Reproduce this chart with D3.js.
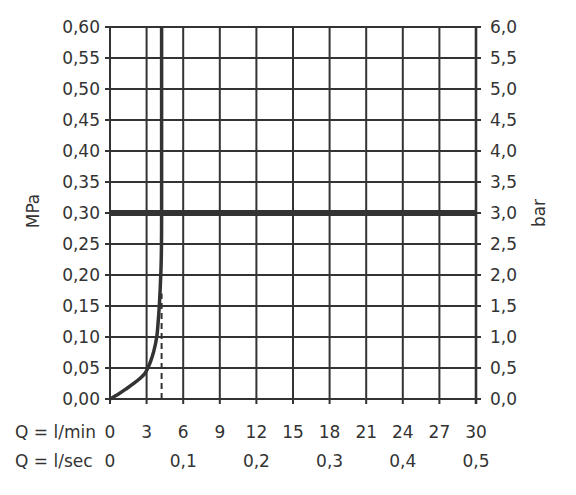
<!DOCTYPE html>
<html><head><meta charset="utf-8">
<script src="https://cdn.jsdelivr.net/npm/d3@7"></script>
<style>body{margin:0;background:#fff}svg{display:block}text{font-family:"DejaVu Sans",sans-serif;fill:#333}</style>
</head><body>
<svg id="c" width="576" height="495"></svg>
<script>
const qTicks = [0,3,6,9,12,15,18,21,24,27,30];
const secTicks = [0,6,12,18,24,30];
const secLabels = ["0","0,1","0,2","0,3","0,4","0,5"];
const mpaTicks = [0,0.05,0.10,0.15,0.20,0.25,0.30,0.35,0.40,0.45,0.50,0.55,0.60];
const barLabels = ["0,0","0,5","1,0","1,5","2,0","2,5","3,0","3,5","4,0","4,5","5,0","5,5","6,0"];
const curveQ = [0,0.7,1.37,2.0,2.5,2.85,3.1,3.35,3.6,3.83,3.95,4.04,4.12,4.18,4.22,4.23,4.23];
const curveP = [0,0.008,0.017,0.026,0.034,0.041,0.05,0.062,0.078,0.10,0.125,0.15,0.18,0.21,0.25,0.30,0.60];
const dashQ = [4.23,4.23];
const dashP = [0,0.17];
const refP = 0.30;

const svg = d3.select("#c");
const L=110,R=476,T=27,B=399;
const x = d3.scaleLinear().domain([0,30]).range([L,R]);
const y = d3.scaleLinear().domain([0,0.6]).range([B,T]);
const col="#333";
const g = svg.append("g");

g.selectAll(".vg").data(qTicks).join("line")
 .attr("x1",d=>x(d)).attr("x2",d=>x(d)).attr("y1",T).attr("y2",B+5)
 .attr("stroke",col).attr("stroke-width",d=>d===30?2.6:2);
g.selectAll(".hg").data(mpaTicks).join("line")
 .attr("x1",L-5).attr("x2",R+5).attr("y1",d=>y(d)).attr("y2",d=>y(d))
 .attr("stroke",col).attr("stroke-width",2);

g.append("line").attr("x1",L).attr("x2",R).attr("y1",y(refP)).attr("y2",y(refP))
 .attr("stroke",col).attr("stroke-width",6);

g.append("line").attr("x1",x(dashQ[0])).attr("x2",x(dashQ[1])).attr("y1",y(dashP[0])).attr("y2",y(dashP[1]))
 .attr("stroke",col).attr("stroke-width",2).attr("stroke-dasharray","6,4");

const pts = curveQ.map((q,i)=>[q,curveP[i]]);
g.append("path").attr("d",d3.line().x(d=>x(d[0])).y(d=>y(d[1])).curve(d3.curveMonotoneY)(pts))
 .attr("fill","none").attr("stroke",col).attr("stroke-width",3.5).attr("stroke-linejoin","round");

g.selectAll(".ll").data(mpaTicks).join("text")
 .attr("x",100).attr("y",d=>y(d)+6).attr("text-anchor","end").attr("font-size",17)
 .text(d=>d3.format(".2f")(d).replace(".",","));
g.selectAll(".rl").data(mpaTicks).join("text")
 .attr("x",490).attr("y",d=>y(d)+6).attr("text-anchor","start").attr("font-size",17)
 .text((d,i)=>barLabels[i]);
g.selectAll(".bl").data(qTicks).join("text")
 .attr("x",d=>x(d)).attr("y",438).attr("text-anchor","middle").attr("font-size",17)
 .text(d=>d);
g.selectAll(".sl").data(secTicks).join("text")
 .attr("x",d=>x(d)).attr("y",467).attr("text-anchor","middle").attr("font-size",17)
 .text((d,i)=>secLabels[i]);
g.append("text").attr("x",15).attr("y",438).attr("font-size",17).text("Q = l/min");
g.append("text").attr("x",15).attr("y",467).attr("font-size",17).text("Q = l/sec");
g.append("text").attr("transform","translate(39,211) rotate(-90)").attr("text-anchor","middle").attr("font-size",17).text("MPa");
g.append("text").attr("transform","translate(545,213) rotate(-90)").attr("text-anchor","middle").attr("font-size",17).text("bar");
</script>
</body></html>
